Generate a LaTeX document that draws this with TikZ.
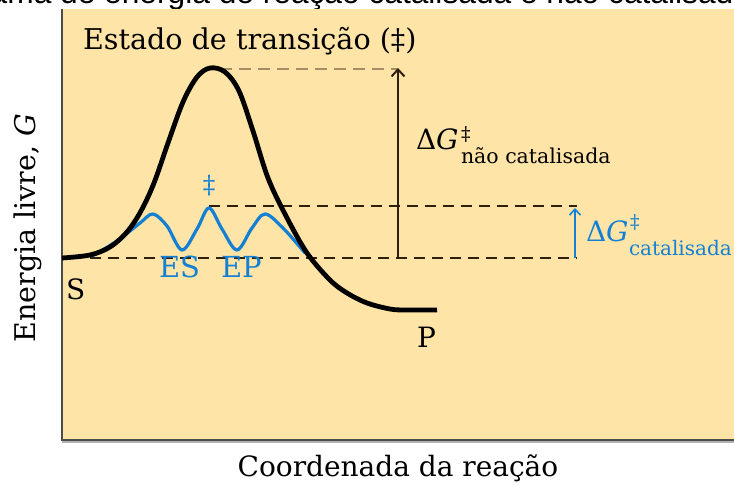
\documentclass[tikz,border=0pt]{standalone}
\usepackage{fontspec}
\setmainfont{DejaVu Serif}
\newfontfamily\arialf{Liberation Sans}
\usetikzlibrary{arrows.meta}
\definecolor{panel}{RGB}{255,228,168}
\definecolor{cblue}{RGB}{20,128,212}
\definecolor{dk}{RGB}{45,32,15}
\definecolor{tan}{RGB}{168,140,100}
\tikzset{
  lbl/.style={inner sep=0pt, outer sep=0pt, text=black},
  bluelbl/.style={lbl, text=cblue},
  dashline/.style={dk, line width=1.5pt, dash pattern=on 11pt off 7pt},
  updash/.style={tan, line width=2pt, dash pattern=on 12pt off 7pt},
  arr/.style={dk, line width=2pt, -{Straight Barb[length=7pt,width=13pt,line width=2pt]}},
  barr/.style={cblue, line width=1.6pt, -{Straight Barb[length=6pt,width=11pt,line width=1.6pt]}}
}
\begin{document}
\begin{tikzpicture}[x=1pt,y=-1pt]
\useasboundingbox (0,0) rectangle (734,486);
\clip (0,0) rectangle (734,486);
\fill[white] (0,0) rectangle (734,486);
% cut-off caption at top
\node[lbl, anchor=base west, font=\arialf\fontsize{31.7}{36}\selectfont] (caption) at (-86,4) {Diagrama de energia de reação catalisada e não catalisada};
% panel
\fill[panel] (62,9) rectangle (740,440);
\draw[gray!60, line width=1.5pt] (62,442) -- (740,442);
\draw[black!70, line width=2pt] (62,9) -- (62,440) -- (740,440);
% dashed reference lines
\coordinate (peakTop) at (220,69);
\coordinate (arrTop) at (398,69);
\coordinate (arrBot) at (398,258);
\coordinate (midL) at (209,206);
\coordinate (midR) at (577,206);
\coordinate (botL) at (90,258);
\coordinate (botR) at (577,258);
\coordinate (barrBot) at (575,258);
\coordinate (barrTop) at (575,208);
\draw[updash] (peakTop) -- (arrTop);
\draw[dashline] (midL) -- (midR);
\draw[dashline] (botL) -- (botR);
% catalysed curve
\draw[cblue, line width=3.2pt, line cap=round] plot[smooth, tension=0.55] coordinates {
  (92,256) (117,241) (140,223) (153,214) (167,226) (182,250) (197,229) (209,208)
  (222,229) (237,250) (252,228) (265,214) (283,228) (305,253)};
% uncatalysed curve
\draw[black, line width=4.8pt] plot[smooth, tension=0.55] coordinates {
  (62,258) (90,255) (110,247) (127,232) (141,211) (154,183) (168,143) (183,102)
  (197,77) (210,68) (225,72) (239,91) (253,131) (268,178) (286,216) (307,253)
  (330,280) (347,293) (367,303) (390,309) (405,310) (437,310)};
% arrows
\draw[arr] (arrBot) -- ([yshift=1pt]arrTop);
\draw[barr] (barrBot) -- (barrTop);
% labels
\node[lbl, anchor=base west, font=\fontsize{28.6}{30}\selectfont] (title) at (83,50) {Estado de transição (‡)};
\node[bluelbl, font=\fontsize{25}{27}\selectfont] (dag) at (209,186) {‡};
\node[lbl, anchor=base west, font=\fontsize{28}{30}\selectfont] (S) at (66,300) {S};
\node[lbl, anchor=base west, font=\fontsize{28}{30}\selectfont] (P) at (417,348) {P};
\node[bluelbl, anchor=base west, font=\fontsize{29}{30}\selectfont] (ES) at (159,278) {ES};
\node[bluelbl, anchor=base west, font=\fontsize{29}{30}\selectfont] (EP) at (221,278) {EP};
\node[lbl, anchor=base west, font=\fontsize{28}{30}\selectfont] (dGn) at (416,150) {Δ\textit{G}};
\node[lbl, anchor=base west, font=\fontsize{19}{20}\selectfont] (dGnsup) at (461,141) {‡};
\node[lbl, anchor=base west, font=\fontsize{20.5}{22}\selectfont] (dGnsub) at (461,164) {não catalisada};
\node[bluelbl, anchor=base west, font=\fontsize{28}{30}\selectfont] (dGc) at (586,242) {Δ\textit{G}};
\node[bluelbl, anchor=base west, font=\fontsize{19}{20}\selectfont] (dGcsup) at (630,229) {‡};
\node[bluelbl, anchor=base west, font=\fontsize{20}{22}\selectfont] (dGcsub) at (629,256) {catalisada};
\node[lbl, font=\fontsize{28}{30}\selectfont] (xlab) at (398,468) {Coordenada da reação};
\node[lbl, rotate=90, font=\fontsize{28.5}{30}\selectfont] (ylab) at (28,228) {Energia livre, \textit{G}};
\end{tikzpicture}
\end{document}
